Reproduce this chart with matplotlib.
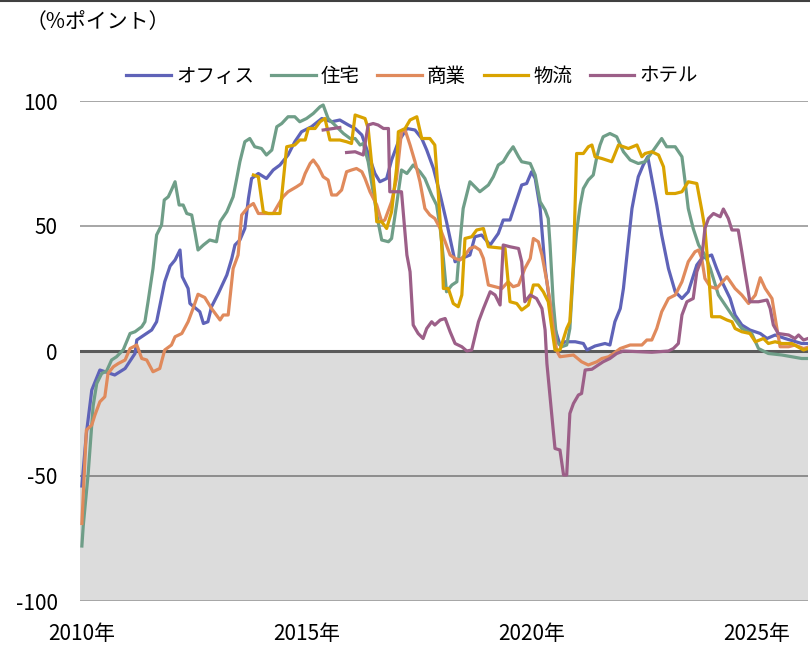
import numpy as np
import matplotlib.pyplot as plt
from matplotlib.lines import Line2D

plt.rcParams['font.family'] = ['Noto Sans CJK JP', 'DejaVu Sans']

# データ（年, %ポイント）
office_t = [2010.00, 2010.10, 2010.22, 2010.40, 2010.73, 2010.96, 2011.18, 2011.22, 2011.55, 2011.66,
            2011.84, 2011.96, 2012.07, 2012.18, 2012.23, 2012.36, 2012.40, 2012.62, 2012.70, 2012.80,
            2012.88, 2013.03, 2013.22, 2013.33, 2013.40, 2013.51, 2013.62, 2013.70, 2013.77, 2013.92,
            2014.10, 2014.25, 2014.40, 2014.58, 2014.73, 2014.88, 2015.10, 2015.33, 2015.55, 2015.73,
            2015.92, 2016.07, 2016.22, 2016.36, 2016.51, 2016.62, 2016.77, 2016.88, 2017.03, 2017.22,
            2017.40, 2017.55, 2017.66, 2017.81, 2017.96, 2018.10, 2018.29, 2018.44, 2018.62, 2018.73,
            2018.88, 2019.07, 2019.25, 2019.36, 2019.51, 2019.62, 2019.77, 2019.88, 2019.99, 2020.07,
            2020.18, 2020.29, 2020.40, 2020.51, 2020.62, 2020.73, 2020.96, 2021.14, 2021.22, 2021.40,
            2021.62, 2021.73, 2021.84, 2021.96, 2022.03, 2022.14, 2022.22, 2022.29, 2022.36, 2022.47,
            2022.57, 2022.66, 2022.77, 2022.88, 2023.03, 2023.18, 2023.33, 2023.47, 2023.66, 2023.77,
            2023.99, 2024.10, 2024.22, 2024.40, 2024.51, 2024.66, 2024.84, 2025.07, 2025.22, 2025.40,
            2025.62, 2025.99, 2026.13]
office_v = [-54, -33, -15.6, -7.6, -9.6, -7, -1, 4.4, 8.4, 11.7,
            27.7, 34, 36.4, 40.4, 29.7, 25, 19, 15.7, 11, 11.7,
            17.7, 23, 30.4, 37, 42.4, 44.4, 49, 61, 69, 71,
            69, 72.4, 74.4, 78.4, 83.7, 87.7, 89.7, 93, 91.7, 92.4,
            90.4, 89, 86.4, 79, 71, 67.7, 69, 76.4, 83.7, 89,
            88.4, 85, 80.4, 73, 62.4, 51.7, 35.7, 37, 38.4, 45.7,
            46.4, 42.4, 47, 52.4, 52.4, 58.4, 66.4, 67, 71.7, 69,
            57, 33, 18.4, 9, 2.4, 3.7, 3.7, 3, 0.4, 2,
            3, 2.4, 11.7, 17, 25, 43.7, 57, 63.7, 69.7, 74.4,
            77.7, 69, 58.4, 46.4, 33, 23.7, 21, 23.7, 34.4, 37,
            38.4, 33, 27.7, 21, 14.4, 10.4, 8.4, 7, 5, 6.4,
            5, 3, 3]

house_t = [2010.00, 2010.03, 2010.14, 2010.25, 2010.33, 2010.44, 2010.55, 2010.66, 2010.77, 2010.92,
           2011.07, 2011.18, 2011.33, 2011.40, 2011.47, 2011.58, 2011.66, 2011.77, 2011.83, 2011.92,
           2011.99, 2012.07, 2012.16, 2012.25, 2012.33, 2012.44, 2012.51, 2012.58, 2012.70, 2012.84,
           2012.99, 2013.07, 2013.22, 2013.36, 2013.44, 2013.51, 2013.62, 2013.73, 2013.84, 2013.99,
           2014.10, 2014.22, 2014.33, 2014.44, 2014.58, 2014.73, 2014.84, 2014.99, 2015.14, 2015.29,
           2015.36, 2015.47, 2015.62, 2015.81, 2015.96, 2016.07, 2016.18, 2016.25, 2016.36, 2016.47,
           2016.58, 2016.66, 2016.81, 2016.88, 2016.99, 2017.10, 2017.22, 2017.36, 2017.51, 2017.62,
           2017.77, 2017.88, 2017.96, 2018.03, 2018.10, 2018.22, 2018.33, 2018.40, 2018.47, 2018.62,
           2018.84, 2019.03, 2019.14, 2019.25, 2019.36, 2019.47, 2019.58, 2019.70, 2019.77, 2019.96,
           2020.07, 2020.18, 2020.29, 2020.36, 2020.40, 2020.47, 2020.55, 2020.66, 2020.77, 2020.84,
           2020.92, 2020.99, 2021.07, 2021.14, 2021.25, 2021.36, 2021.44, 2021.51, 2021.58, 2021.73,
           2021.88, 2022.03, 2022.18, 2022.36, 2022.51, 2022.70, 2022.88, 2022.99, 2023.18, 2023.33,
           2023.40, 2023.47, 2023.58, 2023.70, 2023.84, 2023.96, 2024.14, 2024.29, 2024.44, 2024.66,
           2024.88, 2025.03, 2025.25, 2025.55, 2025.99, 2026.13]
house_v = [-78, -70, -49, -22, -13, -9, -8, -3.6, -2.3, 0.5,
           7, 7.7, 9.7, 11.7, 19.7, 33, 46.4, 50.4, 60.4, 61.7,
           64.4, 67.7, 58.4, 58.4, 55, 54.4, 47.7, 40.4, 42.4, 44.4,
           43.7, 51.7, 55.7, 61.7, 69, 75.7, 83.7, 85, 81.7, 81,
           78.4, 80.4, 89.7, 91, 93.7, 93.7, 91.7, 93, 95, 97.7,
           98.4, 93, 90.4, 87, 85, 85, 82.4, 83, 75.7, 63.7,
           51.7, 44.4, 43.7, 45, 58.4, 72.4, 71, 74.4, 71.7, 69,
           62.4, 58.4, 49, 37, 23.7, 26.4, 27.7, 43.7, 57, 67.7,
           63.7, 66.4, 69.7, 74.4, 75.7, 79, 81.7, 77.7, 75.7, 75,
           70.4, 59.7, 56.4, 53, 42.4, 19.7, 3.7, 1.7, 2.4, 9,
           33, 47.7, 58.4, 65, 68.4, 70.4, 77.7, 82.4, 85.7, 87,
           85.7, 79.7, 76.4, 75, 75.7, 80.4, 85, 81.7, 81.7, 77.7,
           67.7, 57, 49, 42.4, 38.4, 33, 22.4, 18.4, 14.4, 9,
           7, 1, -1, -1.6, -3, -3]

retail_t = [2010.00, 2010.03, 2010.10, 2010.22, 2010.29, 2010.40, 2010.51, 2010.58, 2010.70, 2010.81,
            2010.96, 2011.07, 2011.22, 2011.33, 2011.44, 2011.58, 2011.73, 2011.84, 2011.99, 2012.07,
            2012.22, 2012.36, 2012.47, 2012.58, 2012.73, 2012.88, 2013.07, 2013.14, 2013.25, 2013.36,
            2013.47, 2013.55, 2013.70, 2013.81, 2013.92, 2014.25, 2014.36, 2014.47, 2014.58, 2014.77,
            2014.88, 2014.96, 2015.07, 2015.14, 2015.25, 2015.36, 2015.47, 2015.55, 2015.66, 2015.77,
            2015.88, 2015.99, 2016.10, 2016.22, 2016.29, 2016.40, 2016.55, 2016.66, 2016.73, 2016.88,
            2016.99, 2017.10, 2017.18, 2017.29, 2017.40, 2017.51, 2017.62, 2017.73, 2017.84, 2017.96,
            2018.07, 2018.18, 2018.29, 2018.40, 2018.51, 2018.62, 2018.73, 2018.84, 2018.92, 2018.99,
            2019.03, 2019.18, 2019.33, 2019.47, 2019.58, 2019.70, 2019.84, 2019.96, 2020.03, 2020.14,
            2020.22, 2020.33, 2020.40, 2020.47, 2020.55, 2020.62, 2020.92, 2021.10, 2021.25, 2021.44,
            2021.55, 2021.70, 2021.81, 2021.96, 2022.18, 2022.44, 2022.55, 2022.66, 2022.77, 2022.88,
            2023.03, 2023.18, 2023.33, 2023.47, 2023.62, 2023.70, 2023.77, 2023.84, 2023.96, 2024.10,
            2024.33, 2024.51, 2024.66, 2024.81, 2024.96, 2025.07, 2025.18, 2025.33, 2025.44, 2025.51,
            2025.70, 2025.84, 2026.03, 2026.13]
retail_v = [-69, -58, -31.6, -29.6, -25.6, -20.3, -18.3, -9, -6.3, -5,
            -3.6, 1, 2.4, -3, -3.6, -8.3, -7, 0.4, 2.4, 5.7,
            7, 11.7, 17, 22.7, 21.4, 17, 12.4, 14.4, 14.4, 33,
            38.4, 54.4, 57.7, 59, 55, 55, 58.4, 61.7, 63.7, 65.7,
            67, 71, 75, 76.4, 73.7, 69.7, 68.4, 62.4, 62.4, 64.4,
            71.7, 72.4, 73, 71.7, 69, 63.7, 58.4, 51.7, 52.4, 59.7,
            69, 87.7, 88.4, 82.4, 75.7, 67.7, 57, 54.4, 53, 49,
            43.7, 38.4, 37, 36.4, 38.4, 41, 41.7, 40.4, 37, 30.4,
            26.4, 25.7, 25, 27.7, 25.7, 26.4, 33, 37, 45, 43.7,
            38.4, 27.7, 19.7, 9, 0, -2.3, -1.6, -4.3, -5.6, -4.3,
            -3, -2.3, -1, 1, 2.4, 2.4, 4.4, 4.4, 9, 15.7,
            21, 22.4, 27.7, 35.7, 39.7, 40.4, 37, 29, 25.7, 25,
            29.7, 25, 22.4, 19, 22.4, 29.3, 25, 21, 9, 1.7,
            1.7, 2.4, 1, 1.5]

logi_t = [2013.81, 2013.92, 2014.03, 2014.14, 2014.40, 2014.55, 2014.73, 2014.84, 2014.96, 2015.03,
          2015.18, 2015.29, 2015.40, 2015.51, 2015.73, 2015.88, 2015.99, 2016.07, 2016.29, 2016.36,
          2016.44, 2016.51, 2016.55, 2016.66, 2016.77, 2016.88, 2016.99, 2017.03, 2017.18, 2017.29,
          2017.44, 2017.55, 2017.73, 2017.84, 2017.92, 2017.99, 2018.03, 2018.14, 2018.25, 2018.36,
          2018.44, 2018.51, 2018.66, 2018.77, 2018.92, 2019.03, 2019.40, 2019.51, 2019.66, 2019.77,
          2019.92, 2020.03, 2020.14, 2020.25, 2020.36, 2020.44, 2020.51, 2020.62, 2020.77, 2020.84,
          2020.92, 2020.99, 2021.14, 2021.25, 2021.33, 2021.40, 2021.55, 2021.77, 2021.92, 2022.14,
          2022.33, 2022.44, 2022.51, 2022.66, 2022.81, 2022.92, 2022.99, 2023.18, 2023.33, 2023.47,
          2023.66, 2023.77, 2023.84, 2023.92, 2023.99, 2024.18, 2024.33, 2024.44, 2024.51, 2024.66,
          2024.84, 2024.96, 2025.14, 2025.25, 2025.40, 2025.55, 2025.77, 2026.03, 2026.13]
logi_v = [70.4, 69.7, 55.7, 55, 55, 81.7, 82.4, 84.4, 84.4, 89,
          89, 91.7, 93, 84.4, 84.4, 83.7, 83, 94.4, 93, 89,
          74.4, 62.4, 51.7, 51.7, 49, 55.7, 73, 87.7, 89, 92.4,
          93.7, 85, 85, 82.4, 62.4, 43.7, 25, 25, 19, 17.7,
          22.4, 45, 45.7, 48.4, 49, 41.7, 41, 19.7, 19, 16.4,
          18.4, 26.4, 26.4, 23.7, 19.7, 9, 0.4, 0.4, 9, 11.7,
          35.7, 79, 79, 81.7, 82.4, 77.7, 77, 75.7, 82.4, 81,
          82.4, 77.7, 79, 79.7, 78.4, 73.7, 63, 63, 63.7, 67.7,
          67, 56.4, 49, 31.7, 13.7, 13.7, 12.4, 11.7, 9, 7.7,
          7, 3.7, 5, 3, 3.7, 3, 3, 0.4, 1]

hotel_t = [2015.36, 2015.73, 2015.80, 2015.88, 2016.07, 2016.25, 2016.36, 2016.47, 2016.58, 2016.70,
           2016.81, 2016.84, 2017.10, 2017.22, 2017.29, 2017.36, 2017.47, 2017.58, 2017.66, 2017.77,
           2017.84, 2017.96, 2018.07, 2018.18, 2018.29, 2018.44, 2018.55, 2018.66, 2018.81, 2018.92,
           2019.07, 2019.18, 2019.29, 2019.36, 2019.51, 2019.70, 2019.77, 2019.84, 2019.96, 2020.10,
           2020.22, 2020.29, 2020.33, 2020.40, 2020.47, 2020.51, 2020.62, 2020.70, 2020.77, 2020.84,
           2020.92, 2021.03, 2021.10, 2021.18, 2021.33, 2021.47, 2021.58, 2021.73, 2021.88, 2022.03,
           2022.66, 2023.03, 2023.14, 2023.25, 2023.33, 2023.44, 2023.58, 2023.66, 2023.77, 2023.84,
           2023.92, 2024.03, 2024.18, 2024.25, 2024.36, 2024.44, 2024.58, 2024.66, 2024.73, 2024.84,
           2025.03, 2025.22, 2025.29, 2025.36, 2025.47, 2025.70, 2025.84, 2025.92, 2026.03, 2026.13]
hotel_v = [88.4, 89.4, np.nan, 79.4, 79.7, 78.4, 90.4, 91, 90.4, 89,
           89, 63.7, 63.7, 38.4, 31.7, 10.4, 7, 5, 9, 11.7,
           10.4, 12.4, 13, 7.7, 3, 1.7, 0, 0.4, 11.7, 17,
           23.7, 22.4, 18.4, 42.4, 41.7, 41, 35.7, 19.7, 22.4, 21,
           17, 8.4, -5, -18.3, -31.6, -39, -39.6, -49.6, -49.6, -25,
           -21, -17.6, -17, -7.6, -7.3, -5.6, -4.3, -3, -1, 0,
           -0.5, 0, 1, 3, 14.4, 19.7, 21, 31.7, 37, 49,
           53, 55, 53.7, 56.8, 53, 48.4, 48.4, 39.7, 31.7, 19.7,
           19.7, 20.4, 17, 10.4, 7, 6.4, 5, 6.4, 4.4, 5]

series = [
    ('オフィス', office_t, office_v, '#5F63B8'),
    ('住宅', house_t, house_v, '#6F9E88'),
    ('商業', retail_t, retail_v, '#E08A5C'),
    ('物流', logi_t, logi_v, '#D9A300'),
    ('ホテル', hotel_t, hotel_v, '#9C5F88'),
]
year_ticks = [2010, 2015, 2020, 2025]
year_labels = ['2010年', '2015年', '2020年', '2025年']

fig = plt.figure(figsize=(8.10, 6.53), dpi=100)
ax = fig.add_axes([80 / 810, 52 / 653, 728 / 810, 500 / 653])

x0 = 2010 - 0.5 / 12
x1 = 2026.13
ax.axhspan(-100, 0, color='#DCDCDC', zorder=0, lw=0)
for yv in [100, 50]:
    ax.axhline(yv, color='#A6A6A6', lw=1.4, zorder=1)
ax.axhline(-50, color='#7F7F7F', lw=1.2, zorder=1)
ax.axhline(-100, color='#A6A6A6', lw=1.4, zorder=1)
ax.axhline(0, color='#5A5A5A', lw=2.2, zorder=1)

for name, t, v, c in series:
    ax.plot(t, v, color=c, lw=2.3, label=name, zorder=3, solid_joinstyle='round')

ax.set_xlim(x0, x1)
ax.set_ylim(-100, 100)
ax.set_yticks([-100, -50, 0, 50, 100])
ax.set_yticklabels(['-100', '-50', '0', '50', '100'])
ax.set_xticks(year_ticks)
ax.set_xticklabels(year_labels)
ax.tick_params(axis='both', length=0, labelsize=15, colors='black')
ax.tick_params(axis='y', pad=16)
ax.tick_params(axis='x', pad=16)
for s in ax.spines.values():
    s.set_visible(False)

fig.text(26 / 810, 1 - 22 / 653, '（%ポイント）', fontsize=15, va='center', ha='left')
fig.add_artist(Line2D([0, 1], [1 - 1 / 653, 1 - 1 / 653], color='#404040', lw=1.5))

fig.legend(loc='center', bbox_to_anchor=(412 / 810, 1 - 76 / 653), ncol=5, frameon=False,
           fontsize=14, handlelength=2.3, handletextpad=0.25, columnspacing=0.9)

fig.savefig('out.png', dpi=100)
